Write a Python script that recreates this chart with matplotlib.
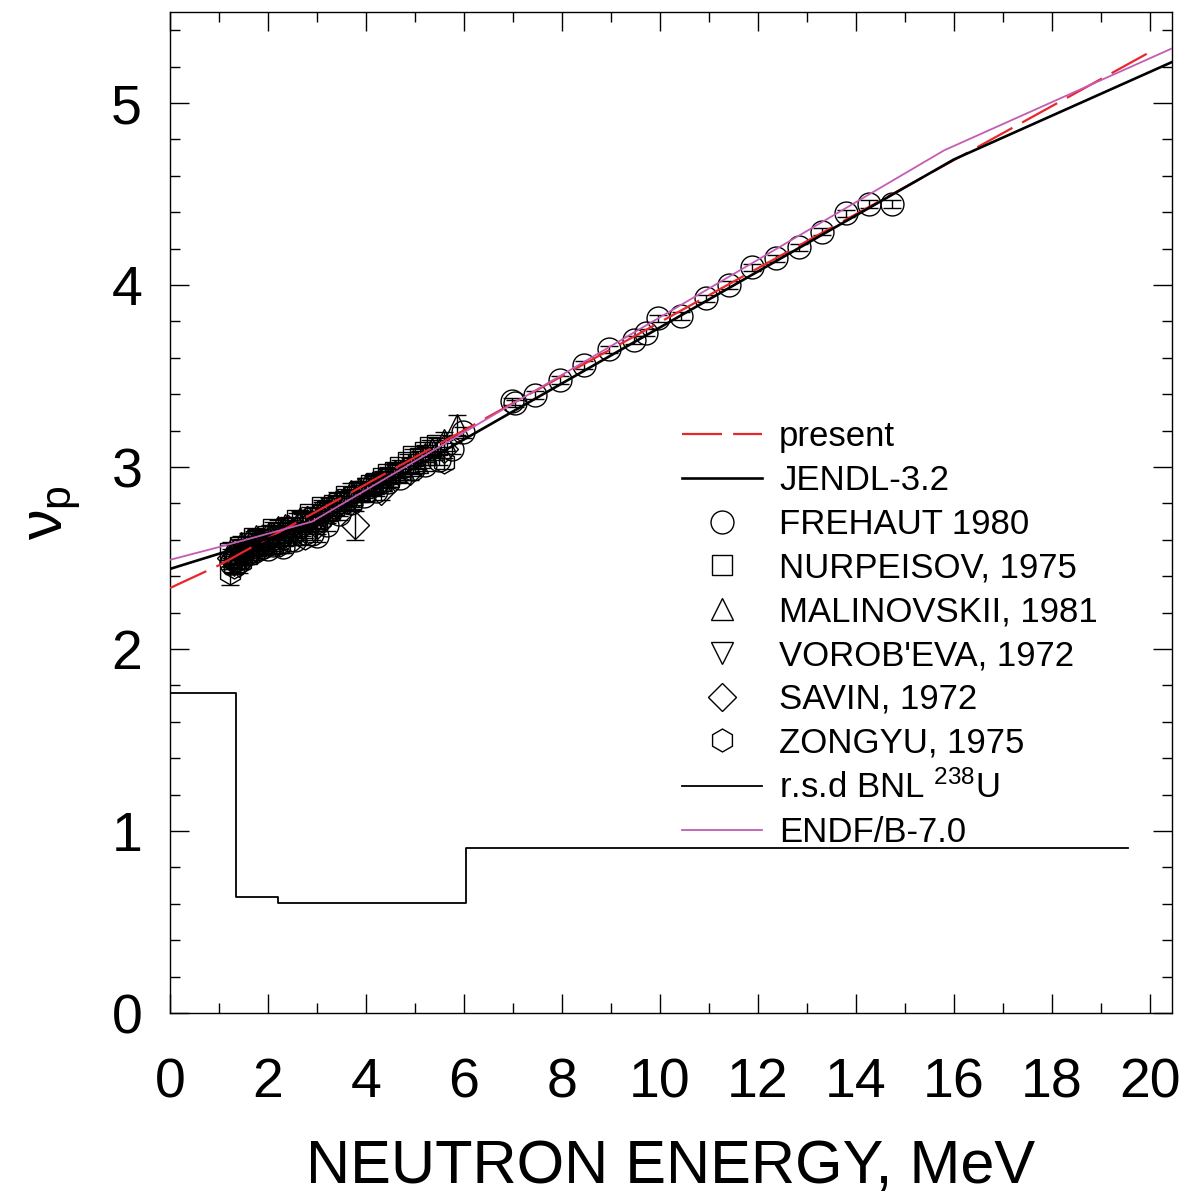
import matplotlib
matplotlib.use("Agg")
import matplotlib.pyplot as plt
from matplotlib.ticker import MultipleLocator

plt.rcParams['font.family'] = ['Liberation Sans', 'DejaVu Sans']
plt.rcParams['mathtext.fontset'] = 'custom'
plt.rcParams['mathtext.rm'] = 'Liberation Sans'
plt.rcParams['mathtext.it'] = 'Liberation Sans'
plt.rcParams['mathtext.bf'] = 'Liberation Sans'

# --- evaluated curves (energy in MeV, prompt nu) ---
present_e = [0.0, 1.0, 20.0]
present_nu = [2.335, 2.46, 5.28]

jendl_e = [0.0, 3.0, 16.0, 20.45]
jendl_nu = [2.44, 2.69, 4.69, 5.225]

endf_e = [0.0, 1.0, 2.9, 15.8, 20.45]
endf_nu = [2.49, 2.56, 2.70, 4.74, 5.30]

# relative standard deviation, BNL U-238 (step function)
rsd_e = [0.0, 1.35, 2.2, 6.05, 19.55]
rsd_val = [1.76, 0.637, 0.606, 0.907, 0.907]

# --- experimental data ---
frehaut_e = [1.25, 1.35, 1.45, 1.55, 1.65, 1.75, 1.9, 2.0, 2.1, 2.2, 2.3, 2.45,
             2.55, 2.75, 2.9, 3.0, 3.2, 3.45, 3.7, 3.95, 4.2, 4.45, 4.7, 4.95,
             5.2, 5.5, 5.75, 5.98,
             6.97, 7.04, 7.45, 7.96, 8.45, 8.96, 9.46, 9.71, 9.95, 10.43,
             10.93, 11.41, 11.88, 12.36, 12.84, 13.31, 13.79, 14.27, 14.74]
frehaut_nu = [2.47, 2.49, 2.50, 2.52, 2.53, 2.55, 2.56, 2.55, 2.57, 2.58, 2.56, 2.60,
              2.60, 2.64, 2.63, 2.62, 2.68, 2.74, 2.80, 2.84, 2.87, 2.92, 2.94, 2.99,
              3.01, 3.04, 3.10, 3.19,
              3.36, 3.35, 3.395, 3.478, 3.56, 3.647, 3.698, 3.738, 3.817, 3.83,
              3.927, 4.00, 4.097, 4.147, 4.207, 4.293, 4.394, 4.445, 4.445]
frehaut_err = [0.03] * 28 + [0.02] * 19

nurpeisov_e = [1.22, 1.3, 1.35, 1.42, 1.5, 1.58, 1.65, 1.72, 1.8, 1.9, 2.0, 2.1,
               2.2, 2.3, 2.45, 2.6, 2.7, 2.85, 2.95, 3.1, 3.2, 3.35, 3.45, 3.6,
               3.7, 3.85, 3.95, 4.1, 4.2, 4.35, 4.45, 4.6, 4.7, 4.85, 4.95, 5.1,
               5.2, 5.3, 5.45]
nurpeisov_nu = [2.53, 2.48, 2.50, 2.56, 2.55, 2.52, 2.58, 2.61, 2.60, 2.57, 2.62, 2.66,
                2.64, 2.62, 2.67, 2.71, 2.70, 2.74, 2.72, 2.78, 2.76, 2.79, 2.80, 2.84,
                2.82, 2.86, 2.87, 2.90, 2.91, 2.94, 2.96, 2.97, 3.00, 3.03, 3.06, 3.05,
                3.08, 3.11, 3.12]
nurpeisov_err = [0.04] * 39

malinovskii_e = [1.25, 1.35, 1.45, 1.6, 1.75, 1.9, 2.05, 2.2, 2.35, 2.5, 2.65,
                 2.8, 2.95, 3.1, 3.25, 3.4, 3.55, 3.7, 3.85, 4.0, 4.15, 4.3,
                 4.45, 4.6, 4.75, 4.9, 5.05, 5.2, 5.35, 5.6, 5.85]
malinovskii_nu = [2.55, 2.53, 2.58, 2.60, 2.62, 2.59, 2.64, 2.67, 2.68, 2.66, 2.72,
                  2.71, 2.74, 2.77, 2.79, 2.82, 2.83, 2.87, 2.88, 2.90, 2.91, 2.93,
                  2.95, 2.98, 2.99, 3.01, 3.03, 3.07, 3.10, 3.15, 3.23]
malinovskii_err = [0.04] * 30 + [0.055]

vorobeva_e = [1.3, 1.4, 1.5, 1.65, 1.8, 1.95, 2.1, 2.25, 2.4, 2.55, 2.7, 2.85,
              3.0, 3.15, 3.3, 3.45, 3.6, 3.75, 3.9, 4.05, 4.2, 4.35, 4.5]
vorobeva_nu = [2.46, 2.50, 2.52, 2.54, 2.55, 2.58, 2.60, 2.61, 2.63, 2.64, 2.66, 2.69,
               2.70, 2.73, 2.75, 2.77, 2.80, 2.83, 2.86, 2.88, 2.90, 2.91, 2.93]
vorobeva_err = [0.04] * 23

savin_e = [1.25, 1.4, 1.6, 1.8, 2.0, 2.2, 2.4, 2.6, 2.8, 3.0, 3.2, 3.78, 4.3,
           4.9, 5.6]
savin_nu = [2.50, 2.47, 2.55, 2.58, 2.61, 2.60, 2.66, 2.65, 2.71, 2.68, 2.74, 2.68,
            2.87, 2.98, 3.10]
savin_err = [0.05] * 11 + [0.08, 0.05, 0.05, 0.05]

zongyu_e = [1.22, 1.3, 1.45, 1.6, 1.8, 2.0, 2.25, 2.5, 2.75, 3.0, 5.6]
zongyu_nu = [2.42, 2.45, 2.48, 2.52, 2.54, 2.58, 2.57, 2.63, 2.61, 2.69, 3.03]
zongyu_err = [0.07] + [0.04] * 10

fig = plt.figure(figsize=(11.97, 11.97), dpi=100)
ax = fig.add_axes([170 / 1197, 184 / 1197, 1002 / 1197, 1001 / 1197])

exp_sets = [
    (frehaut_e, frehaut_nu, frehaut_err, 'o', 16.5, 'FREHAUT 1980'),
    (nurpeisov_e, nurpeisov_nu, nurpeisov_err, 's', 14.5, 'NURPEISOV, 1975'),
    (malinovskii_e, malinovskii_nu, malinovskii_err, '^', 16.5, 'MALINOVSKII, 1981'),
    (vorobeva_e, vorobeva_nu, vorobeva_err, 'v', 16.5, "VOROB'EVA, 1972"),
    (savin_e, savin_nu, savin_err, 'D', 14.5, 'SAVIN, 1972'),
    (zongyu_e, zongyu_nu, zongyu_err, 'h', 16.5, 'ZONGYU, 1975'),
]

h_present, = ax.plot(present_e, present_nu, color='#e8262b', lw=1.6,
                     dashes=(18, 5), zorder=4, label='present')
h_jendl, = ax.plot(jendl_e, jendl_nu, color='black', lw=1.9, zorder=4,
                   label='JENDL-3.2')
h_endf, = ax.plot(endf_e, endf_nu, color='#c45cb4', lw=1.3, zorder=5,
                  label='ENDF/B-7.0')
h_rsd, = ax.step(rsd_e, rsd_val, where='post', color='black', lw=1.3,
                 zorder=4, label=r'r.s.d BNL $^{238}$U')

exp_handles = []
for e, nu, err, mk, ms, lab in exp_sets:
    ax.errorbar(e, nu, yerr=err, fmt='none', ecolor='black', elinewidth=1.0,
                capsize=6.5, capthick=1.0, zorder=2)
    h, = ax.plot(e, nu, ls='none', marker=mk, ms=ms, mfc='none', mec='black',
                 mew=1.0, zorder=3, label=lab)
    exp_handles.append(h)

ax.set_xlim(0, 20.45)
ax.set_ylim(0, 5.5)
ax.xaxis.set_major_locator(MultipleLocator(2))
ax.xaxis.set_minor_locator(MultipleLocator(1))
ax.yaxis.set_major_locator(MultipleLocator(1))
ax.yaxis.set_minor_locator(MultipleLocator(0.2))
ax.tick_params(which='both', direction='in', top=True, right=True, width=1.0)
ax.tick_params(which='major', length=14)
ax.tick_params(which='minor', length=7)
ax.tick_params(axis='x', which='major', labelsize=40, pad=32)
ax.tick_params(axis='y', which='major', labelsize=40, pad=20)
for sp in ax.spines.values():
    sp.set_linewidth(1.0)

ax.set_xlabel('NEUTRON ENERGY, MeV', fontsize=44, labelpad=21)
ax.set_ylabel(r'$\nu_\mathrm{p}$', fontsize=44, labelpad=20)

leg_handles = [h_present, h_jendl] + exp_handles + [h_rsd, h_endf]
leg = ax.legend(handles=leg_handles, loc='upper left',
                bbox_to_anchor=(0.497, 0.606), frameon=False, fontsize=25,
                handlelength=2.3, handletextpad=0.5, labelspacing=0.31,
                borderaxespad=0, numpoints=1)

fig.savefig('out.png', dpi=100)
